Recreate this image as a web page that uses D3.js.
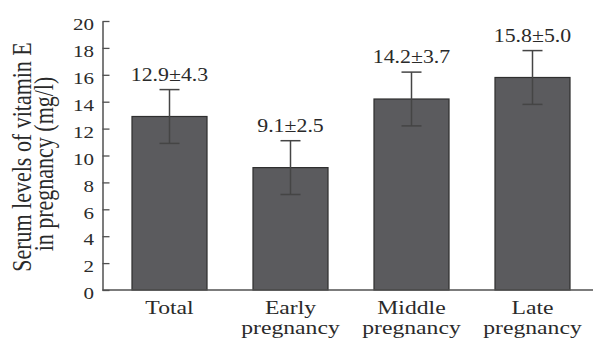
<!DOCTYPE html>
<html>
<head>
<meta charset="utf-8">
<script src="https://cdn.jsdelivr.net/npm/d3@7"></script>
<style>
  body { margin: 0; background: #fff; }
  svg text { font-family: "Liberation Serif", "DejaVu Serif", serif; fill: #2a2a2a; }
</style>
</head>
<body>
<div id="chart-area"></div>
<script>
// values
var categories = [["Total"], ["Early", "pregnancy"], ["Middle", "pregnancy"], ["Late", "pregnancy"]];
var means = [12.9, 9.1, 14.2, 15.8];
var sds = [4.3, 2.5, 3.7, 5.0];
var whisker = [2.0, 2.0, 2.0, 2.0];   // half length of the drawn error bars
var yTicks = [0, 2, 4, 6, 8, 10, 12, 14, 16, 18, 20];
var yTitle = ["Serum levels of vitamin E", "in pregnancy (mg/l)"];

var width = 593, height = 341;
var stretch = 1.2;
var serif = "'Liberation Serif', 'DejaVu Serif', serif";

var svg = d3.select("#chart-area")
    .append("svg")
        .attr("width", width)
        .attr("height", height);

var x = d3.scaleBand()
    .domain(d3.range(categories.length))
    .range([109, 593])
    .paddingInner(0.38)
    .paddingOuter(0.19);

var y = d3.scaleLinear()
    .domain([0, 20])
    .range([290, 21]);

var axisX = 102.5;

// bars
svg.selectAll("rect.bar")
    .data(means)
    .enter()
    .append("rect")
        .attr("class", "bar")
        .attr("x", (d, i) => x(i))
        .attr("y", d => y(d))
        .attr("width", x.bandwidth())
        .attr("height", d => y(0) - y(d))
        .style("fill", "#5b5b5e")
        .style("stroke", "#2f2f2f")
        .style("stroke-width", 1.2);

// error bars
var cap = 10;
var err = svg.selectAll("g.err")
    .data(means)
    .enter()
    .append("g")
        .attr("class", "err")
        .style("stroke", "#454545")
        .style("stroke-width", 1.5);

err.append("line")
    .attr("x1", (d, i) => x(i) + x.bandwidth() / 2)
    .attr("x2", (d, i) => x(i) + x.bandwidth() / 2)
    .attr("y1", (d, i) => y(d - whisker[i]))
    .attr("y2", (d, i) => y(d + whisker[i]));

err.append("line")
    .attr("x1", (d, i) => x(i) + x.bandwidth() / 2 - cap)
    .attr("x2", (d, i) => x(i) + x.bandwidth() / 2 + cap)
    .attr("y1", (d, i) => y(d + whisker[i]))
    .attr("y2", (d, i) => y(d + whisker[i]));

err.append("line")
    .attr("x1", (d, i) => x(i) + x.bandwidth() / 2 - cap)
    .attr("x2", (d, i) => x(i) + x.bandwidth() / 2 + cap)
    .attr("y1", (d, i) => y(d - whisker[i]))
    .attr("y2", (d, i) => y(d - whisker[i]));

// value labels
svg.selectAll("text.val")
    .data(means)
    .enter()
    .append("text")
        .attr("class", "val")
        .attr("transform", (d, i) => "translate(" + (x(i) + x.bandwidth() / 2) + ", " + (y(d + whisker[i]) - 9) + ") scale(1.18,1)")
        .attr("text-anchor", "middle")
        .style("font-family", serif)
        .style("font-size", "18.5px")
        .text((d, i) => d.toFixed(1) + "±" + sds[i].toFixed(1));

// y axis
var yAxisCall = d3.axisLeft(y)
    .tickValues(yTicks)
    .tickSizeInner(-7)
    .tickSizeOuter(0);

var yAxis = svg.append("g")
    .attr("class", "y-axis")
    .attr("transform", "translate(" + axisX + ", 0)")
    .call(yAxisCall);

yAxis.attr("font-family", null);
yAxis.select(".domain").style("stroke", "#505050").style("stroke-width", 1.5);
yAxis.selectAll(".tick line").style("stroke", "#505050").style("stroke-width", 1.3);
yAxis.selectAll(".tick text")
    .attr("x", -8.5 / stretch)
    .attr("dy", "0.5em")
    .attr("transform", "scale(" + stretch + ",1)")
    .style("font-size", "17.5px")
    .style("font-family", serif)
    .style("fill", "#2a2a2a");

// x axis line
svg.append("line")
    .attr("x1", axisX)
    .attr("x2", width)
    .attr("y1", y(0))
    .attr("y2", y(0))
    .style("stroke", "#505050")
    .style("stroke-width", 1.5);

// category labels
var cats = svg.selectAll("g.cat")
    .data(categories)
    .enter()
    .append("g")
        .attr("class", "cat")
        .attr("transform", (d, i) => "translate(" + (x(i) + x.bandwidth() / 2) + ", 313.5) scale(1.28,1)");

cats.selectAll("text")
    .data(d => d)
    .enter()
    .append("text")
        .attr("x", 0)
        .attr("y", (d, j) => j * 21)
        .attr("text-anchor", "middle")
        .style("font-family", serif)
        .style("font-size", "18.5px")
        .text(d => d);

// y title
var titlePos = [[31, 157], [53, 164]];
svg.selectAll("text.ytitle")
    .data(yTitle)
    .enter()
    .append("text")
        .attr("class", "ytitle")
        .attr("text-anchor", "middle")
        .attr("transform", (d, i) => "translate(" + titlePos[i][0] + ", " + titlePos[i][1] + ") rotate(-90) scale(1," + stretch + ")")
        .style("font-family", serif)
        .style("font-size", "22px")
        .text(d => d);
</script>
</body>
</html>
